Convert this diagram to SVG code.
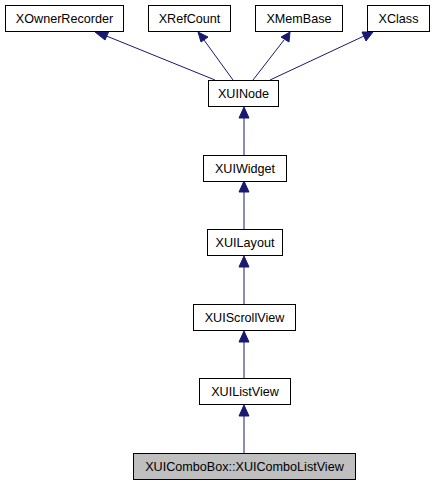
<svg xmlns="http://www.w3.org/2000/svg" width="436" height="485" viewBox="0 0 436 485">
<style>
.n rect{fill:#fff;stroke:#000;stroke-width:1}
.n.h rect{fill:#bfbfbf}
.n text{font-family:"Liberation Sans",Arial,sans-serif;font-size:12.6px;text-anchor:middle;fill:#000}
.e path{fill:none;stroke:#191970;stroke-width:1}
.e polygon{fill:#191970;stroke:#191970}
</style>
<rect width="436" height="485" fill="#fff"/>
<g class="e">
<path d="M215,80 L104,35"/><polygon points="95,32 109,31 105,40"/>
<path d="M233,80 L204,40"/><polygon points="198,32 208,37 201,42"/>
<path d="M253,80 L284,40"/><polygon points="290,32 289,42 281,37"/>
<path d="M270,80 L364,36"/><polygon points="373,32 366,41 362,32"/>
<path d="M244,155 L244,117"/><polygon points="244,107 249,118 239,118"/>
<path d="M244,229 L244,191"/><polygon points="244,181 249,192 239,192"/>
<path d="M244,304 L244,266"/><polygon points="244,256 249,267 239,267"/>
<path d="M244,378 L244,341"/><polygon points="244,331 249,342 239,342"/>
<path d="M244,453 L244,415"/><polygon points="244,405 249,416 239,416"/>
</g>
<g id="XOwnerRecorder" class="n"><rect x="5.5" y="5.5" width="118" height="26"/><text x="64.5" y="23">XOwnerRecorder</text></g>
<g id="XRefCount" class="n"><rect x="148.5" y="5.5" width="82" height="26"/><text x="189.5" y="23">XRefCount</text></g>
<g id="XMemBase" class="n"><rect x="255.5" y="5.5" width="87" height="26"/><text x="299" y="23">XMemBase</text></g>
<g id="XClass" class="n"><rect x="367.5" y="5.5" width="62" height="26"/><text x="398.5" y="23">XClass</text></g>
<g id="XUINode" class="n"><rect x="208.5" y="80.5" width="70" height="26"/><text x="243.5" y="98">XUINode</text></g>
<g id="XUIWidget" class="n"><rect x="203.5" y="155.5" width="83" height="26"/><text x="245" y="173">XUIWidget</text></g>
<g id="XUILayout" class="n"><rect x="207.5" y="229.5" width="75" height="26"/><text x="245" y="247">XUILayout</text></g>
<g id="XUIScrollView" class="n"><rect x="193.5" y="304.5" width="102" height="26"/><text x="244.5" y="322">XUIScrollView</text></g>
<g id="XUIListView" class="n"><rect x="199.5" y="378.5" width="91" height="26"/><text x="245" y="396">XUIListView</text></g>
<g id="XUIComboListView" class="n h"><rect x="133.5" y="453.5" width="222" height="26"/><text x="244.5" y="471">XUIComboBox::XUIComboListView</text></g>
</svg>
